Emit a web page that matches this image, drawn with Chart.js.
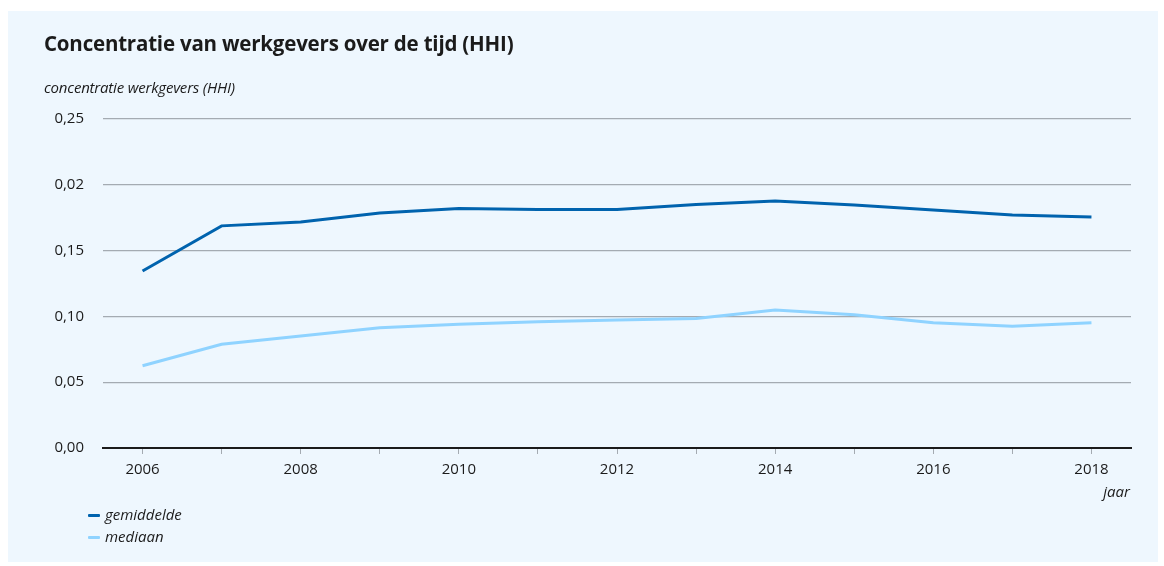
<!DOCTYPE html>
<html lang="nl">
<head>
<meta charset="utf-8">
<title>Concentratie van werkgevers over de tijd (HHI)</title>
<script src="https://cdn.jsdelivr.net/npm/chart.js@4/dist/chart.umd.min.js"></script>
<style>
  html, body { margin: 0; padding: 0; background: #ffffff; }
  body { width: 1164px; height: 566px; position: relative; overflow: hidden; font-family: "Open Sans", sans-serif; color: #1b1b1b; }
  .panel { position: absolute; left: 8px; top: 11px; width: 1150px; height: 551px; background: #eef7fe; }
  .chart-wrap { position: absolute; left: 0; top: 0; width: 1164px; height: 566px; }
  .title { position: absolute; left: 44px; top: 29px; font-size: 20.5px; font-weight: 700; letter-spacing: -0.2px; }
  .ytitle { position: absolute; left: 44px; top: 77px; font-size: 15px; font-style: italic; letter-spacing: -0.2px; }
  .xtitle { position: absolute; right: 34px; top: 481px; font-size: 15px; font-style: italic; }
  .legend { position: absolute; left: 88px; top: 504px; font-size: 15px; font-style: italic; }
  .legend div { height: 22px; line-height: 21px; }
  .legend span { display: inline-block; width: 12px; height: 3px; vertical-align: middle; margin-right: 5px; border-radius: 1px; }
</style>
</head>
<body>
<div class="panel"></div>
<div class="chart-wrap"><canvas id="hhiChart"></canvas></div>
<div class="title">Concentratie van werkgevers over de tijd (HHI)</div>
<div class="ytitle">concentratie werkgevers (HHI)</div>
<div class="xtitle">jaar</div>
<div class="legend" id="legend"></div>

<script>
  // Years on the x axis
  const years = ['2006', '2007', '2008', '2009', '2010', '2011', '2012', '2013', '2014', '2015', '2016', '2017', '2018'];

  // Series values (HHI)
  const gemiddelde = [0.1345, 0.1688, 0.1717, 0.1785, 0.1820, 0.1812, 0.1813, 0.1850, 0.1877, 0.1847, 0.1809, 0.1770, 0.1755];
  const mediaan = [0.0625, 0.0788, 0.0851, 0.0914, 0.0940, 0.0960, 0.0973, 0.0984, 0.1049, 0.1013, 0.0952, 0.0925, 0.0952];

  // Y tick labels as printed, bottom to top
  const yTickLabels = ['0,00', '0,05', '0,10', '0,15', '0,02', '0,25'];

  const colors = {
    dark: '#0063ae',
    light: '#8fd3ff',
    grid: '#a4abb2',
    axis: '#1b1b1b',
    text: '#1b1b1b'
  };

  const series = [
    { label: 'gemiddelde', data: gemiddelde, color: colors.dark },
    { label: 'mediaan', data: mediaan, color: colors.light }
  ];

  // Legend below the chart
  const legendEl = document.getElementById('legend');
  series.forEach(s => {
    const row = document.createElement('div');
    row.innerHTML = '<span style="background:' + s.color + '"></span>' + s.label;
    legendEl.appendChild(row);
  });

  const tickFont = { family: '"Open Sans", sans-serif', size: 15 };

  new Chart(document.getElementById('hhiChart'), {
    type: 'line',
    data: {
      labels: years,
      datasets: series.map(s => ({
        label: s.label,
        data: s.data,
        borderColor: s.color,
        backgroundColor: s.color,
        borderWidth: 3,
        pointRadius: 0,
        tension: 0,
        fill: false
      }))
    },
    options: {
      responsive: true,
      maintainAspectRatio: false,
      animation: false,
      layout: {
        padding: { left: 0, right: 33, top: 119, bottom: 78 }
      },
      plugins: {
        legend: { display: false },
        title: { display: false },
        tooltip: { enabled: false }
      },
      scales: {
        x: {
          offset: true,
          grid: {
            display: true,
            drawOnChartArea: false,
            drawTicks: true,
            tickLength: 6,
            color: colors.grid,
            offset: false
          },
          border: { display: true, color: colors.axis, width: 2 },
          ticks: {
            autoSkip: false,
            maxRotation: 0,
            padding: 7,
            color: colors.text,
            font: tickFont,
            callback: function(value, index) {
              return index % 2 === 0 ? years[index] : '';
            }
          },
          afterFit: function(scale) { scale.height = 40; }
        },
        y: {
          min: 0,
          max: 0.25,
          grid: {
            color: function(ctx) { return ctx.index === 0 ? 'rgba(0,0,0,0)' : colors.grid; },
            lineWidth: 1.2,
            drawTicks: false
          },
          border: { display: false },
          ticks: {
            stepSize: 0.05,
            padding: 19,
            color: colors.text,
            font: tickFont,
            callback: function(value, index) { return yTickLabels[index]; }
          },
          afterFit: function(scale) { scale.width = 103; }
        }
      }
    }
  });
</script>
</body>
</html>
